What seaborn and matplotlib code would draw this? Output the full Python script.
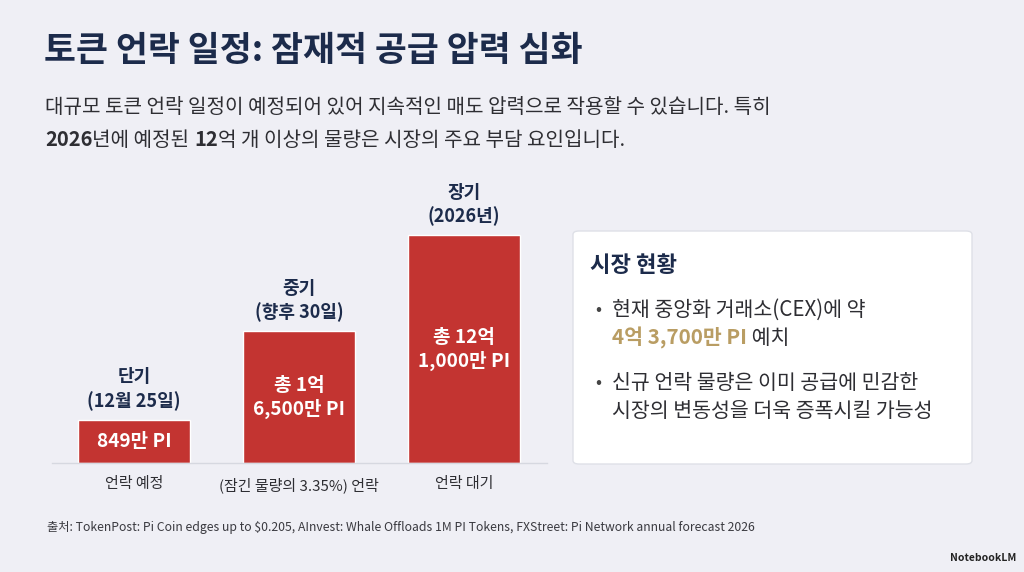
import matplotlib
matplotlib.use("Agg")
import matplotlib.pyplot as plt
from matplotlib.patches import FancyBboxPatch
import seaborn as sns
import pandas as pd

# ---- data ----
categories = ["언락 예정", "(잠긴 물량의 3.35%) 언락", "언락 대기"]
periods = ["단기", "중기", "장기"]
period_notes = ["(12월 25일)", "(향후 30일)", "(2026년)"]
amount_lines = [["849만 PI"], ["총 1억", "6,500만 PI"], ["총 12억", "1,000만 PI"]]
bar_heights = [43, 132, 228]  # displayed bar heights (stylized)

title = "토큰 언락 일정: 잠재적 공급 압력 심화"
sub_line1 = "대규모 토큰 언락 일정이 예정되어 있어 지속적인 매도 압력으로 작용할 수 있습니다. 특히"
sub_line2 = [("2026", "bold"), ("년에 예정된 ", "normal"), ("12", "bold"),
             ("억 개 이상의 물량은 시장의 주요 부담 요인입니다.", "normal")]
panel_title = "시장 현황"
bullet1 = ["현재 중앙화 거래소(CEX)에 약", "4억 3,700만 PI", " 예치"]
bullet2 = ["신규 언락 물량은 이미 공급에 민감한", "시장의 변동성을 더욱 증폭시킬 가능성"]
source = "출처: TokenPost: Pi Coin edges up to $0.205, AInvest: Whale Offloads 1M PI Tokens, FXStreet: Pi Network annual forecast 2026"

BG = "#EFEFF5"
NAVY = "#1C2B4B"
RED = "#C33431"
GOLD = "#B99D63"
DARK = "#2E2E33"

sns.set_theme(style="white")
plt.rcParams["font.family"] = ["Noto Sans CJK KR", "DejaVu Sans"]

W, H = 1024, 572
fig = plt.figure(figsize=(W / 100, H / 100), dpi=100)
fig.patch.set_facecolor(BG)


def fx(px):
    return px / W


def fy(py):
    return 1 - py / H


renderer = fig.canvas.get_renderer()


def runs(x, y, parts, size, color=DARK):
    for s, weight, col in parts:
        t = fig.text(x, y, s, fontsize=size, fontweight=weight, color=col or color,
                     va="center", ha="left")
        bb = t.get_window_extent(renderer=renderer)
        x += bb.width / fig.bbox.width


# Title and subtitle
fig.text(fx(44), fy(51), title, fontsize=25, fontweight="bold", color=NAVY, va="center")
fig.text(fx(45), fy(108), sub_line1, fontsize=14.5, color=DARK, va="center")
runs(fx(45), fy(140), [(s, w, DARK) for s, w in sub_line2], 14.5)

# Bar chart
ax = fig.add_axes([fx(51.5), fy(463), fx(495), 293 / H])
ax.set_facecolor(BG)
df = pd.DataFrame({"category": categories, "height": bar_heights})
sns.barplot(data=df, x="category", y="height", color=RED, saturation=1,
            width=0.68, ax=ax)
ax.set_xlim(-0.5, 2.5)
ax.set_ylim(0, 293)
for s in ["top", "right", "left"]:
    ax.spines[s].set_visible(False)
ax.spines["bottom"].set_color("#D6D8E0")
ax.spines["bottom"].set_linewidth(1.0)
ax.set_yticks([])
ax.set_xlabel("")
ax.set_ylabel("")
ax.tick_params(axis="x", length=0, pad=10, labelsize=10.8, labelcolor=DARK)

for i, h in enumerate(bar_heights):
    ax.text(i, h + 43, periods[i], ha="center", va="center", fontsize=13,
            fontweight="bold", color=NAVY)
    ax.text(i, h + 19, period_notes[i], ha="center", va="center", fontsize=13,
            fontweight="bold", color=NAVY)
    lines = amount_lines[i]
    n = len(lines)
    for j, line in enumerate(lines):
        yy = h / 2 + (n - 1) * 11.5 - j * 23
        ax.text(i, yy, line, ha="center", va="center", fontsize=13.7,
                fontweight="bold", color="white")

# Right panel
panel = FancyBboxPatch((fx(573), fy(464)), fx(972 - 573), (464 - 231) / H,
                       boxstyle="round,pad=0,rounding_size=0.006",
                       transform=fig.transFigure, facecolor="white",
                       edgecolor="#DEE0E7", linewidth=1.0)
fig.patches.append(panel)
fig.text(fx(590), fy(266), panel_title, fontsize=16, fontweight="bold", color=NAVY, va="center")

fig.text(fx(598), fy(310), "•", fontsize=13, color="#444444", va="center", ha="center")
fig.text(fx(612), fy(310), bullet1[0], fontsize=14.8, color=DARK, va="center")
runs(fx(612), fy(338), [(bullet1[1], "bold", GOLD), (bullet1[2], "normal", DARK)], 14.8)

fig.text(fx(598), fy(383), "•", fontsize=13, color="#444444", va="center", ha="center")
fig.text(fx(612), fy(383), bullet2[0], fontsize=14.8, color=DARK, va="center")
fig.text(fx(612), fy(411), bullet2[1], fontsize=14.8, color=DARK, va="center")

# Source & brand
fig.text(fx(47), fy(528), source, fontsize=8.8, color="#3A3A40", va="center")
fig.text(fx(1016), fy(558), "NotebookLM", fontsize=7.5, fontweight="bold",
         color="#222222", va="center", ha="right")

fig.savefig("out.png", dpi=100, facecolor=BG)
